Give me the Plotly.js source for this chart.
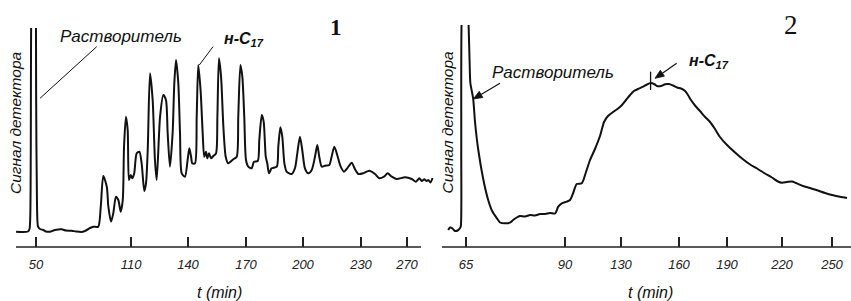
<!DOCTYPE html>
<html><head><meta charset="utf-8">
<script src="https://cdn.plot.ly/plotly-3.0.1.min.js"></script>
<style>html,body{margin:0;padding:0;background:#fff;} #chart{width:851px;height:301px;}</style>
</head><body><div id="chart"></div>
<script>
// ---- Chromatogram 1 (time in minutes, detector signal in arbitrary units) ----
const p1Time = [
  37.4,44.9,45.9,46.4,46.7,47.2,48.4,49.7,50.1,50.6,
  51.3,52.5,54.6,56.3,58.8,62.0,66.2,68.9,72.5,75.3,
  78.9,81.6,84.1,86.2,89.3,90.9,92.5,94.7,95.7,97.4,
  98.8,100.5,102.0,103.5,104.8,105.6,106.8,107.9,108.7,109.8,
  110.7,111.7,113.0,114.4,115.6,117.0,117.9,118.8,120.0,121.4,
  122.6,123.5,125.3,127.0,128.4,129.3,130.5,131.9,132.8,133.7,
  134.9,135.8,136.7,138.4,139.8,140.7,141.6,142.2,143.6,144.5,
  145.3,146.5,147.6,148.4,149.3,150.0,150.9,151.9,153.1,154.5,
  155.2,156.0,157.1,158.3,159.5,160.8,163.4,165.2,166.0,167.1,
  168.1,169.1,170.0,171.2,173.0,174.2,176.2,177.0,178.3,179.3,
  180.4,181.2,182.1,183.5,186.2,187.0,188.1,189.1,190.2,191.4,
  194.0,195.8,197.0,198.4,199.6,201.0,202.7,204.5,206.2,207.4,
  208.4,209.7,211.4,213.6,214.8,216.2,217.7,219.5,221.2,222.9,
  225.2,226.9,228.6,232.0,237.2,242.2,245.9,250.0,253.2,256.7,
  261.0,268.3,274.1,277.8,280.7,282.8,285.0,287.1,288.5,290.4,
  292.2
];
const p1Signal = [
  15.3,15.5,18,32,97,257,287,257,147,47,
  20.3,18,17,15.5,15.3,17,17.7,16.5,16.3,15.5,
  15,16.5,19,20.3,20.3,40.3,71,60.3,40.3,25.3,
  33.7,50.3,47,35.3,47,100.3,130.3,117,67,72,
  68.7,73.7,93.7,95.3,83.7,56,63.7,97,173.7,147,
  87,67,130.3,152,147,113.7,80.3,113.7,163.7,187,
  163.7,113.7,73.7,70.3,87,98.7,90.3,83.7,83.7,130.3,
  182,157,113.7,90.3,95.3,88.7,93.7,88.7,91,93.7,
  130.3,188.7,170.3,120.3,90.3,83.7,87.7,90.3,130.3,182,
  170.3,130.3,87,80.3,78.7,85.3,86,107,132,125.3,
  90.3,83.7,73.7,78.7,80.3,100.3,119.7,110.3,83.7,75.3,
  73,79,93.7,110.3,97,78.7,73.7,77,90.3,102,
  90.3,80.3,81.3,82,90.3,100.3,92,80.3,75.3,78.7,
  84.3,77.7,73,73.7,76.3,73,68.7,70.3,73.7,70.3,
  68,69.7,68,65.3,68.7,66,67.7,66,67,64.5,
  69
];
// ---- Chromatogram 2 ----
const p2Time = [
  60.5,61.0,61.6,62.2,62.9,63.5,63.7,63.8,63.9,64.7,
  65.6,65.9,66.1,66.8,67.3,68.1,69.4,70.6,71.6,72.8,
  73.6,74.8,76.1,76.9,77.8,78.6,79.9,81.2,82.4,83.7,
  85.0,86.2,87.5,88.3,89.2,91.2,93.6,95.7,98.4,102.0,
  105.0,107.9,111.4,115.0,117.9,120.7,124.3,127.9,130.5,132.6,
  134.7,136.7,138.8,141.4,143.4,145.3,147.1,148.6,150.7,152.8,
  154.8,156.9,159.0,161.3,163.8,165.6,167.5,170.0,173.1,176.3,
  179.4,182.5,185.6,190.0,194.4,198.2,202.6,206.4,210.7,214.5,
  217.8,220.0,223.0,226.0,228.4,232.6,236.8,241.0,245.8,250.0,
  254.8,259.0
];
const p2Signal = [
  17,19.5,18.5,16,16.5,19,21,97,227,287,
  227,187,164,148.7,124,97,67,47,36,28.7,
  24.5,23.7,24.3,27,29.5,31,30.5,32,31.5,33,
  33,34,33.5,40.3,43.7,45.3,47,53.5,63,63.7,
  75,87,98,111,125,131,135,138.5,142,147,
  152,156,158,160.3,162.5,164,163,161,161,162.7,
  163,161.5,159.5,158.5,156,152,147,141.5,136,130,
  125,118,110,102,94.5,88.5,82.5,78.5,73.5,69.5,
  65.5,64.3,65,65.5,64,61,59,56.7,54,52,
  50.3,49
];
const p1TickMinutes = [50,110,140,170,200,230,270];
const p2TickMinutes = [65,90,130,160,190,220,250];
const p1TickLabels = p1TickMinutes.map(String);
const p2TickLabels = p2TickMinutes.map(String);
const nC17Time2 = 145.3;   // н-С17 position, chromatogram 2

// The original time axes are hand-drawn and non-uniform: axis position of each labelled tick
const p1ScalePos = [36,131,188,246,303,361,407];
const p2ScalePos = [466,565,621,679,727,782,832];
function makeWarp(mins, pos){
  return function(t){
    let i = 0;
    while (i < mins.length - 2 && t > mins[i+1]) i++;
    const k = (pos[i+1]-pos[i])/(mins[i+1]-mins[i]);
    return pos[i] + (t - mins[i]) * k;
  };
}
const warp1 = makeWarp(p1TickMinutes, p1ScalePos);
const warp2 = makeWarp(p2TickMinutes, p2ScalePos);

const W = 851, H = 301;
const px = x => x / W;
const py = y => (H - y) / H;
const SANS = 'Liberation Sans, Arial, Helvetica, sans-serif';
const SERIF = 'Liberation Serif, Times New Roman, serif';
const INK = '#111';

const lineStyle = {color: INK, width: 2, shape: 'spline', smoothing: 0.7};
const traces = [
  {x: p1Time.map(warp1), y: p1Signal, xaxis: 'x', yaxis: 'y', mode: 'lines', line: lineStyle, hoverinfo: 'skip'},
  {x: p2Time.map(warp2), y: p2Signal, xaxis: 'x2', yaxis: 'y2', mode: 'lines', line: lineStyle, hoverinfo: 'skip'}
];

const tickFont = {family: SANS, size: 13, color: '#222', style: 'italic'};
function xAxis(dom, warp, mins, labels, anchor){
  return {domain: [px(dom[0]), px(dom[1])], range: dom, anchor: anchor,
    showgrid: false, zeroline: false, showline: false,
    ticks: 'inside', ticklen: 10, tickwidth: 1.2, tickcolor: '#222',
    tickmode: 'array', tickvals: mins.map(warp), ticktext: labels,
    tickfont: tickFont, ticklabelstandoff: 8, fixedrange: true};
}
function label(x, y, text, font, extra){
  return Object.assign({xref: 'paper', yref: 'paper', x: px(x), y: py(y), text: text,
    showarrow: false, xanchor: 'center', yanchor: 'middle', font: font}, extra || {});
}
function seg(x0, y0, x1, y1, w){
  return {type: 'line', xref: 'paper', yref: 'paper', x0: px(x0), y0: py(y0), x1: px(x1), y1: py(y1),
    line: {color: INK, width: w || 1}};
}
// arrow = line + filled triangular head (pixel geometry converted to paper fractions)
function arrowShapes(tipX, tipY, tailX, tailY){
  const dx = tailX - tipX, dy = tailY - tipY, L = Math.hypot(dx, dy);
  const ux = dx / L, uy = dy / L, len = 9, hw = 3.6;
  const bx = tipX + ux * len, by = tipY + uy * len;
  const p = (x, y) => px(x) + ',' + py(y);
  const head = 'M' + p(tipX, tipY) + ' L' + p(bx - uy * hw, by + ux * hw) +
               ' L' + p(bx + uy * hw, by - ux * hw) + ' Z';
  return [seg(tailX, tailY, bx, by, 1.2),
          {type: 'path', xref: 'paper', yref: 'paper', path: head, fillcolor: INK, line: {color: INK, width: 0.8}}];
}
const italic = (s) => ({family: SANS, size: s, color: INK, style: 'italic'});
const boldItalic = (s) => ({family: SANS, size: s, color: INK, style: 'italic', weight: 'bold'});

const layout = {
  width: W, height: H, margin: {l: 0, r: 0, t: 0, b: 0},
  paper_bgcolor: '#fff', plot_bgcolor: '#fff', showlegend: false,
  xaxis: xAxis([16, 434], warp1, p1TickMinutes, p1TickLabels, 'y'),
  xaxis2: xAxis([440, 851], warp2, p2TickMinutes, p2TickLabels, 'y2'),
  yaxis: {domain: [py(247), py(28)], range: [0, 219], visible: false, fixedrange: true},
  yaxis2: {domain: [py(247), py(25)], range: [0, 222], visible: false, fixedrange: true},
  shapes: [
    {type: 'line', xref: 'x', yref: 'paper', x0: 16, x1: 421, y0: py(247), y1: py(247), line: {color: '#222', width: 1.3}},
    {type: 'line', xref: 'x2', yref: 'paper', x0: 442, x1: 851, y0: py(247), y1: py(247), line: {color: '#222', width: 1.3}},
    seg(96.7, 46.7, 40, 98.3, 1),
    seg(213, 46.7, 199.3, 65, 1),
    {type: 'line', xref: 'x2', yref: 'paper', x0: warp2(nC17Time2), x1: warp2(nC17Time2), y0: py(71.7), y1: py(90), line: {color: INK, width: 1.3}}
  ].concat(arrowShapes(473.3, 99, 500, 83.3), arrowShapes(655, 78.3, 676.7, 63.3)),
  annotations: [
    label(121, 36, 'Растворитель', italic(17)),
    label(221.7, 39.5, 'н-С<sub>17</sub>', boldItalic(16), {xanchor: 'left'}),
    label(336, 27.5, '1', {family: SERIF, size: 23, color: INK, weight: 'bold'}),
    label(15, 123, 'Сигнал детектора', italic(15.5), {textangle: -90}),
    label(220, 292, 't (min)', italic(16)),
    label(552.5, 72.5, 'Растворитель', italic(17)),
    label(686.7, 61, 'н-С<sub>17</sub>', boldItalic(16), {xanchor: 'left'}),
    label(791, 24.5, '2', {family: SERIF, size: 27, color: INK}),
    label(446.5, 123, 'Сигнал детектора', italic(15.5), {textangle: -90}),
    label(650, 292, 't (min)', italic(16))
  ]
};
Plotly.newPlot('chart', traces, layout, {displayModeBar: false, staticPlot: true});
</script>
</body></html>
